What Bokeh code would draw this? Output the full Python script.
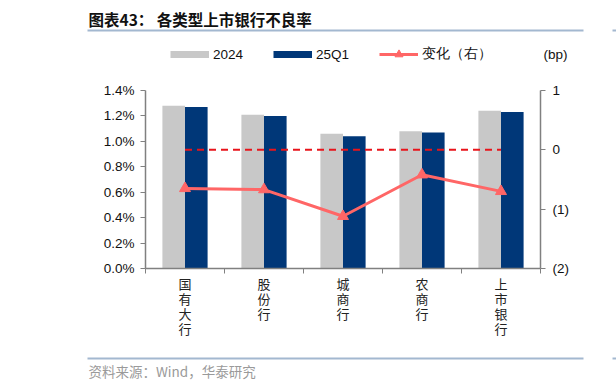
from bokeh.plotting import figure
from bokeh.models import (Range1d, LinearAxis, FixedTicker, Legend, LegendItem, Label,
                          BoxAnnotation, ColumnDataSource, PrintfTickFormatter)
from bokeh.embed import file_html
from bokeh.resources import INLINE

# ---- data ----
categories = ["国有大行", "股份行", "城商行", "农商行", "上市银行"]
npl_2024 = [1.28, 1.21, 1.06, 1.08, 1.24]      # %
npl_25q1 = [1.27, 1.20, 1.04, 1.07, 1.23]      # %
change_bp = [-0.65, -0.67, -1.12, -0.42, -0.70]  # right axis
zero_ref = [0, 0, 0, 0, 0]
left_ticks = [0.0, 0.2, 0.4, 0.6, 0.8, 1.0, 1.2, 1.4]
right_ticks = [-2, -1, 0, 1]
right_tick_labels = ["(2)", "(1)", "0", "1"]
series_names = ["2024", "25Q1", "变化（右）"]
unit_label = "(bp)"
title_text = "图表43：  各类型上市银行不良率"
source_text = "资料来源：Wind，华泰研究"

GRAY = "#C8C8C8"
NAVY = "#003778"
RED = "#FF6666"
DASH_RED = "#E8141B"
RULE = "#A3B8D0"
FONT = "Liberation Sans"
CJK = "Noto Sans CJK SC"

W, H = 616, 389
# plot-area placement in page pixels
PX0, PX1, PY_TOP, PY_BOT = 145, 540, 90, 268

n = len(categories)
lmin, lmax = left_ticks[0], left_ticks[-1]
rmin, rmax = right_ticks[0], right_ticks[-1]
sx = (PX1 - PX0) / n
sl = (PY_BOT - PY_TOP) / (lmax - lmin)
sr = (PY_BOT - PY_TOP) / (rmax - rmin)

centers = [i + 0.5 for i in range(n)]
bw = 0.286
src = ColumnDataSource(dict(
    x1=[c - bw / 2 for c in centers],
    x2=[c + bw / 2 for c in centers],
    xc=centers,
    a=npl_2024, b=npl_25q1, chg=change_bp, z=zero_ref,
))

p = figure(width=W, height=H, output_backend="svg", toolbar_location=None,
           x_range=Range1d(-PX0 / sx, n + (W - PX1) / sx),
           y_range=Range1d(lmin - (H - PY_BOT) / sl, lmax + PY_TOP / sl),
           min_border=0, min_border_left=0, min_border_right=0,
           min_border_top=0, min_border_bottom=0)
p.outline_line_color = None
p.xgrid.visible = False
p.ygrid.visible = False
p.extra_y_ranges = {"chg": Range1d(rmin - (H - PY_BOT) / sr, rmax + PY_TOP / sr)}

p.vbar(x="x1", top="a", width=bw, bottom=0, source=src, fill_color=GRAY, line_color=None)
p.vbar(x="x2", top="b", width=bw, bottom=0, source=src, fill_color=NAVY, line_color=None)
p.line(x="xc", y="z", source=src, y_range_name="chg", line_color=DASH_RED,
       line_width=2, line_dash="7 5")
r3 = p.line(x="xc", y="chg", source=src, y_range_name="chg", line_color=RED, line_width=3)
r4 = p.scatter(x="xc", y="chg", source=src, y_range_name="chg", marker="triangle",
               size=11, fill_color=RED, line_color=RED)

# legend proxies (thick line swatches, no visible data)
nan = float("nan")
l1 = p.line(x=[nan], y=[nan], line_color=GRAY, line_width=7, line_cap="butt")
l2 = p.line(x=[nan], y=[nan], line_color=NAVY, line_width=7, line_cap="butt")

# axes (fixed inside the full-canvas frame)
xa = p.xaxis[0]
xa.fixed_location = lmin
xa.bounds = (0, n)
xa.ticker = FixedTicker(ticks=centers, minor_ticks=list(range(n + 1)))
xa.major_label_overrides = {c: "\n".join(list(cat)) for c, cat in zip(centers, categories)}
xa.major_tick_out = 0
xa.major_tick_in = 0
xa.minor_tick_out = 5
xa.minor_tick_in = 0
xa.minor_tick_line_color = "#808080"
xa.axis_line_color = "#808080"
xa.axis_line_width = 1.5
xa.major_label_text_font = CJK
xa.major_label_text_font_size = "13px"
xa.major_label_text_color = "#222222"
xa.major_label_text_line_height = 0.8
xa.major_label_standoff = 0

ya = p.yaxis[0]
ya.fixed_location = 0
ya.bounds = (lmin, lmax)
ya.ticker = FixedTicker(ticks=left_ticks)
ya.formatter = PrintfTickFormatter(format="%.1f%%")
ya.major_tick_out = 5
ya.major_tick_in = 0
ya.minor_tick_line_color = None
ya.axis_line_color = "#808080"
ya.major_tick_line_color = "#808080"
ya.axis_line_width = 1.5
ya.major_label_text_font = FONT
ya.major_label_text_font_size = "13.5px"
ya.major_label_text_color = "#111111"
ya.major_label_standoff = 6

ra = LinearAxis(y_range_name="chg", ticker=FixedTicker(ticks=right_ticks),
                fixed_location=n, bounds=(rmin, rmax))
ra.major_label_overrides = {t: s for t, s in zip(right_ticks, right_tick_labels)}
ra.major_tick_out = 5
ra.major_tick_in = 0
ra.minor_tick_line_color = None
ra.axis_line_color = "#808080"
ra.major_tick_line_color = "#808080"
ra.axis_line_width = 1.5
ra.major_label_text_font = FONT
ra.major_label_text_font_size = "13.5px"
ra.major_label_text_color = "#111111"
ra.major_label_standoff = 7
p.add_layout(ra, "right")

# legend
legend = Legend(items=[
    LegendItem(label=series_names[0], renderers=[l1]),
    LegendItem(label=series_names[1], renderers=[l2]),
    LegendItem(label=series_names[2], renderers=[r3, r4]),
], orientation="horizontal", location=(170, H - 64), glyph_width=39, glyph_height=20,
    label_standoff=4, spacing=30, padding=0, margin=0,
    border_line_color=None, background_fill_alpha=0,
    label_text_font=FONT, label_text_font_size="13.5px", label_text_color="#111111")
p.add_layout(legend, "center")

# unit, title, rules, source
p.add_layout(Label(x=543, y=H - 54, x_units="screen", y_units="screen", text=unit_label,
                   text_font=FONT, text_font_size="13.5px", text_baseline="middle",
                   text_color="#111111"))
p.add_layout(Label(x=88, y=H - 18, x_units="screen", y_units="screen", text=title_text,
                   text_font=CJK, text_font_style="bold", text_font_size="15.5px",
                   text_baseline="middle", text_color="#111111"))
p.add_layout(Label(x=88, y=H - 370, x_units="screen", y_units="screen", text=source_text,
                   text_font=CJK, text_font_size="13.5px", text_baseline="middle",
                   text_color="#9A9A9A"))
for top in (H - 29, H - 357):
    for left, right in ((87, 583), (612, 616)):
        p.add_layout(BoxAnnotation(left=left, right=right, top=top, bottom=top - 2,
                                   left_units="screen", right_units="screen",
                                   top_units="screen", bottom_units="screen",
                                   fill_color=RULE, fill_alpha=1, line_color=None))

open("out.html", "w").write(file_html(p, INLINE))
